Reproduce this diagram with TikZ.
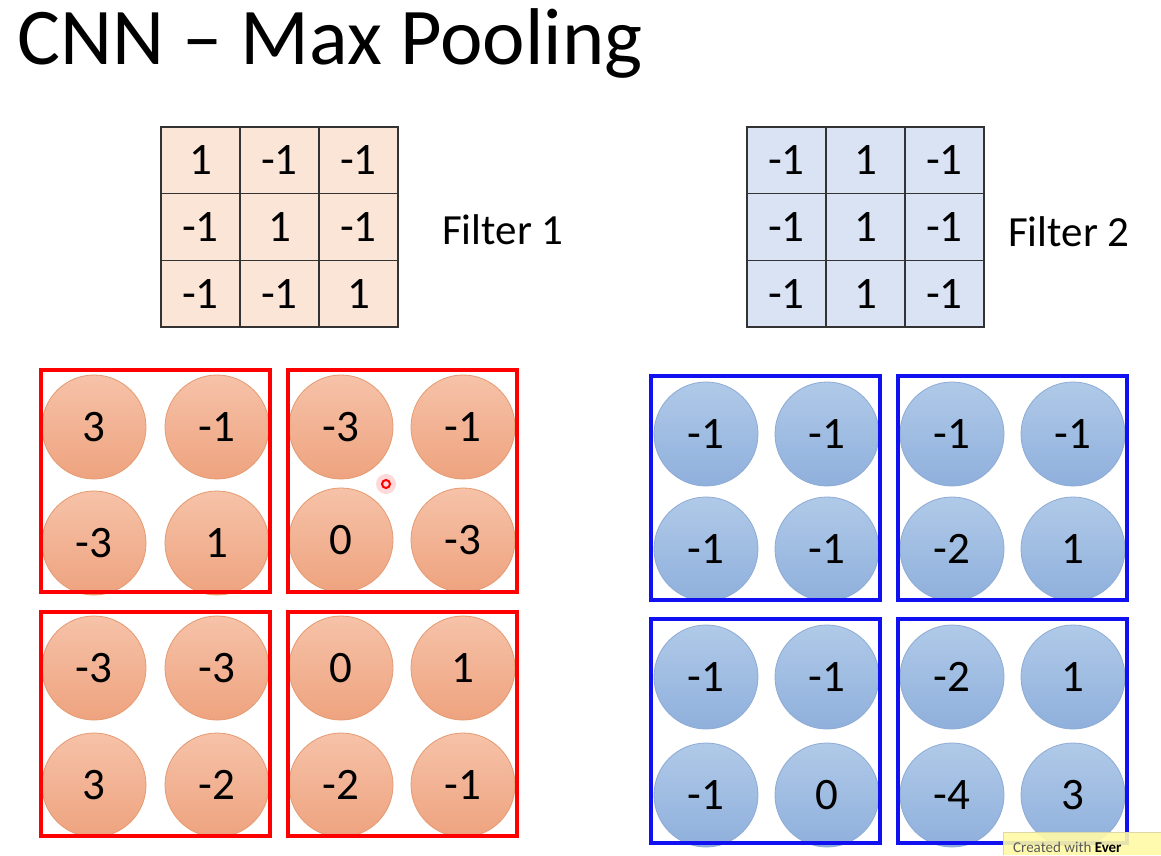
\documentclass[tikz,border=0pt]{standalone}
\usepackage{fontspec}
\setmainfont{Carlito}
\definecolor{peach}{HTML}{FBE5D6}
\definecolor{lblue}{HTML}{DAE3F3}
\definecolor{otop}{HTML}{F6C2A8}
\definecolor{obot}{HTML}{EEA37F}
\definecolor{oline}{HTML}{E59A70}
\definecolor{btop}{HTML}{B0C9E8}
\definecolor{bbot}{HTML}{8FB0DC}
\definecolor{bline}{HTML}{8EABD6}
\definecolor{pblue}{HTML}{1010F0}
\tikzset{
  cellbox/.style={draw=black!80, line width=1.3pt, minimum width=79pt, minimum height=66.7pt, inner sep=0pt, font=\fontsize{45}{50}\selectfont},
  lab/.style={anchor=west, inner sep=0pt, font=\fontsize{43}{48}\selectfont},
  numfont/.style={font=\fontsize{45}{50}\selectfont},
  ocirc/.style={circle, minimum size=104pt, inner sep=0pt, top color=otop, bottom color=obot, draw=oline, line width=0.8pt, numfont},
  bcirc/.style={circle, minimum size=104pt, inner sep=0pt, top color=btop, bottom color=bbot, draw=bline, line width=0.8pt, numfont},
  rbox/.style={draw=red, line width=4pt},
  bbox/.style={draw=pblue, line width=4pt},
}
\begin{document}
\begin{tikzpicture}[x=1pt,y=-1pt]
\useasboundingbox (0,0) rectangle (1161,855);
\fill[white] (0,0) rectangle (1161,855);
% title
\node[anchor=base west, inner sep=0pt, font=\fontsize{80.5}{90}\selectfont] (title) at (17,64) {CNN -- Max Pooling};
% filter 1
\foreach \v [count=\i from 0] in {1,-1,-1,-1,1,-1,-1,-1,1}{
  \pgfmathtruncatemacro{\c}{mod(\i,3)}
  \pgfmathtruncatemacro{\r}{int(\i/3)}
  \node[cellbox, fill=peach] (fa\i) at ({200.5+79*\c},{160.3+66.7*\r}) {\v};
}
\node[lab] (f1) at (442,230) {Filter 1};
% filter 2
\foreach \v [count=\i from 0] in {-1,1,-1,-1,1,-1,-1,1,-1}{
  \pgfmathtruncatemacro{\c}{mod(\i,3)}
  \pgfmathtruncatemacro{\r}{int(\i/3)}
  \node[cellbox, fill=lblue] (fb\i) at ({786.5+79*\c},{160.3+66.7*\r}) {\v};
}
\node[lab] (f2) at (1008,232) {Filter 2};
% orange circles
\foreach \x/\y/\v [count=\i] in {94/427/3, 217/427/-1, 94/543/-3, 217/543/1,
  341/427/-3, 463/427/-1, 341/540/0, 463/540/-3,
  94/668/-3, 217/668/-3, 94/785/3, 217/785/-2,
  341/668/0, 463/668/1, 341/785/-2, 463/785/-1}{
  \node[ocirc] (o\i) at (\x,\y) {\v};
}
% blue circles
\foreach \x/\y/\v [count=\i] in {706/434/-1, 827/434/-1, 706/549/-1, 827/549/-1,
  952/434/-1, 1073/434/-1, 952/549/-2, 1073/549/1,
  706/677/-1, 827/677/-1, 706/795/-1, 827/795/0,
  952/677/-2, 1073/677/1, 952/795/-4, 1073/795/3}{
  \node[bcirc] (b\i) at (\x,\y) {\v};
}
% red pooling boxes
\draw[rbox] (41,370) rectangle (270,592);
\draw[rbox] (288,370) rectangle (517,592);
\draw[rbox] (41,612) rectangle (270,836);
\draw[rbox] (288,612) rectangle (517,836);
% blue pooling boxes
\draw[bbox] (651,376) rectangle (880,600);
\draw[bbox] (898,376) rectangle (1127,600);
\draw[bbox] (651,619) rectangle (880,843);
\draw[bbox] (898,619) rectangle (1127,843);
% laser pointer
\fill[red, opacity=0.15] (386,484) circle (10);
\draw[red, line width=2pt] (386,484) circle (4);
% watermark badge
\fill[yellow!35, opacity=0.9] (1003,832) rectangle (1161,855);
\draw[yellow!60!black!40] (1003,855) -- (1003,832) -- (1161,832);
\node[anchor=base west, inner sep=0pt, text=black!65, font=\fontsize{15}{18}\selectfont] (badge) at (1013,852) {Created with \textbf{\textcolor{black}{Ever}}};
\end{tikzpicture}
\end{document}
